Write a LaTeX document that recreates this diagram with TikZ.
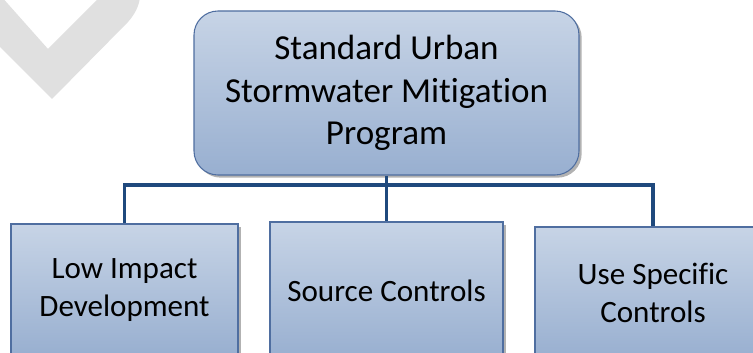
\documentclass[tikz,border=0pt]{standalone}
\usepackage{fontspec}
\setmainfont{Carlito}[Ligatures=NoCommon]
\usepackage{tikz}
\usetikzlibrary{shadows}

\begin{document}
\begin{tikzpicture}[x=0.75pt,y=0.75pt]
\definecolor{fillColor}{RGB}{255,255,255}
\definecolor{markColor}{RGB}{224,224,224}
\definecolor{boxTop}{RGB}{199,212,230}
\definecolor{boxBottom}{RGB}{152,175,208}
\definecolor{boxLine}{RGB}{79,110,160}
\definecolor{lineColor}{RGB}{31,73,125}
\tikzset{
  progbox/.style={draw=boxLine,line width=0.8pt,top color=boxTop,bottom color=boxBottom,
    align=center,inner sep=0pt,
    drop shadow={shadow xshift=2pt,shadow yshift=-2pt,fill=black,opacity=0.3}},
  headbox/.style={progbox,rounded corners=18pt,minimum width=288.75pt,minimum height=123pt,
    font=\fontsize{26.3}{32}\selectfont},
  subbox/.style={progbox,minimum height=99pt,font=\fontsize{23.3}{28}\selectfont},
  conn/.style={draw=lineColor,line width=2.6pt,line join=miter}
}
\path[use as bounding box,fill=fillColor] (0,0) rectangle (753,353);
\begin{scope}
\path[clip] (0,0) rectangle (753,353);

% watermark
\path[fill=markColor] (0,358) -- (48,304) -- (100,356) -- (140,356)
  .. controls (139,347) and (135,339) .. (128,331) -- (52,254) -- (0,306) -- cycle;

% boxes
\node[headbox] (prog) at (386.5,260) {Standard Urban\\Stormwater Mitigation\\Program};
\node[subbox,minimum width=170.25pt] (lid) at (124.5,63) {Low Impact\\Development};
\node[subbox,minimum width=174.75pt,minimum height=102.75pt] (src) at (386.5,62.5) {Source Controls};
\node[subbox,minimum width=177pt] (use) at (653,60) {Use Specific\\Controls};

% connectors
\coordinate (bus) at (386.5,168);
\draw[conn] (prog.south) -- (src.north);
\draw[conn] (lid.north) |- (bus) -| (use.north);
\end{scope}
\end{tikzpicture}
\end{document}
